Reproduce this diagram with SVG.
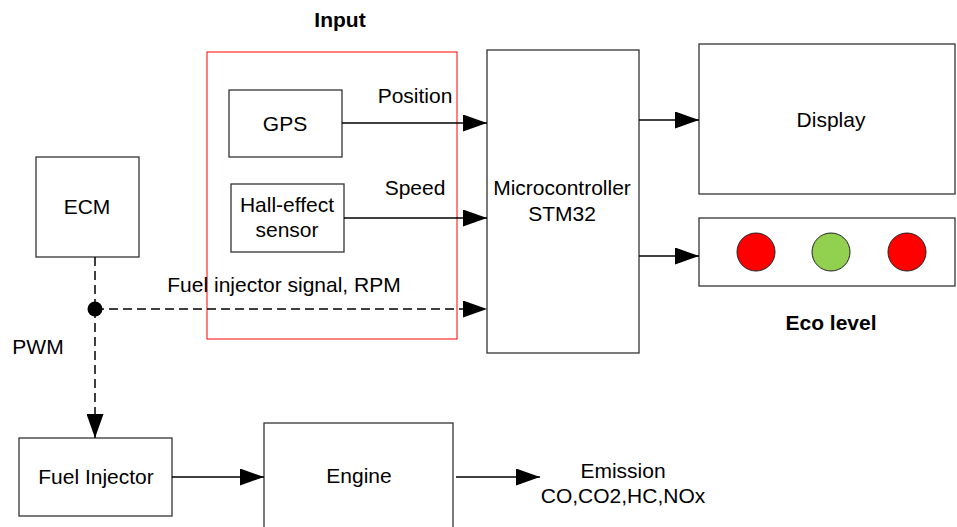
<svg xmlns="http://www.w3.org/2000/svg" width="957" height="527" viewBox="0 0 957 527">
<style>
text{font-family:"Liberation Sans",Arial,sans-serif;font-size:21px;fill:#000;text-anchor:middle}
.b{font-weight:bold}
.box{fill:#fff;stroke:#333;stroke-width:1.3}
.ln{fill:none;stroke:#000;stroke-width:1.5}
.dash{stroke-dasharray:9 5}
</style>
<defs>
<marker id="ah" markerUnits="userSpaceOnUse" markerWidth="24" markerHeight="17" refX="24" refY="8.5" orient="auto">
<path d="M0,0 L24,8.5 L0,17 z" fill="#000"/>
</marker>
</defs>
<rect width="957" height="527" fill="#fff"/>
<g id="input-group">
<rect x="207" y="52" width="250" height="287" fill="none" stroke="#f00" stroke-width="1"/>
<text class="b" x="340" y="27">Input</text>
</g>
<g id="gps"><rect class="box" x="229" y="90" width="113" height="67"/><text x="285" y="131">GPS</text></g>
<g id="hall"><rect class="box" x="231" y="184" width="113" height="68"/><text x="287" y="212">Hall-effect</text><text x="287" y="237">sensor</text></g>
<g id="mcu"><rect class="box" x="487" y="50" width="152" height="303"/><text x="562" y="195">Microcontroller</text><text x="562" y="221">STM32</text></g>
<g id="display"><rect class="box" x="699" y="44" width="256" height="150"/><text x="831" y="127">Display</text></g>
<g id="eco">
<rect class="box" x="699" y="218" width="256" height="68"/>
<circle cx="756" cy="252" r="19" fill="#f00" stroke="#222" stroke-width="1"/>
<circle cx="831" cy="252" r="19" fill="#92d050" stroke="#222" stroke-width="1"/>
<circle cx="907" cy="252" r="19" fill="#f00" stroke="#222" stroke-width="1"/>
<text class="b" x="831" y="330">Eco level</text>
</g>
<g id="ecm"><rect class="box" x="36" y="157" width="103" height="100"/><text x="87" y="214">ECM</text></g>
<g id="fuel-injector"><rect class="box" x="19" y="438" width="153" height="78"/><text x="96" y="484">Fuel Injector</text></g>
<g id="engine"><rect class="box" x="264" y="423" width="189" height="110"/><text x="359" y="483">Engine</text></g>
<g id="emission"><text x="623" y="478">Emission</text><text x="623" y="503">CO,CO2,HC,NOx</text></g>
<g id="connectors">
<path class="ln" d="M342,123 H487" marker-end="url(#ah)"/>
<path class="ln" d="M344,218 H487" marker-end="url(#ah)"/>
<path class="ln dash" d="M95,309 H487" marker-end="url(#ah)"/>
<path class="ln dash" d="M95,257 V309"/>
<path class="ln dash" d="M95,309 V438" marker-end="url(#ah)"/>
<circle cx="95" cy="309" r="7.5" fill="#000"/>
<path class="ln" d="M639,120 H699" marker-end="url(#ah)"/>
<path class="ln" d="M639,256 H699" marker-end="url(#ah)"/>
<path class="ln" d="M172,477 H264" marker-end="url(#ah)"/>
<path class="ln" d="M456,477 H540" marker-end="url(#ah)"/>
<text x="415" y="103">Position</text>
<text x="415" y="195">Speed</text>
<text x="284" y="292">Fuel injector signal, RPM</text>
<text x="38" y="354">PWM</text>
</g>
</svg>
